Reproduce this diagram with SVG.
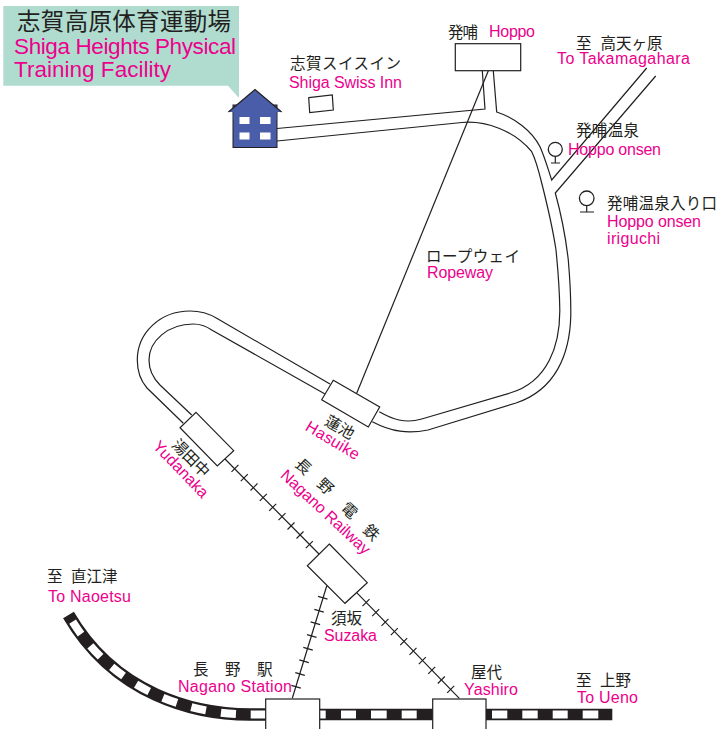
<svg xmlns="http://www.w3.org/2000/svg" width="728" height="729" viewBox="0 0 728 729">
<style>
text{font-family:"Noto Sans CJK JP","Noto Sans",sans-serif;font-size:15.5px;fill:#231f20}
.en{font-family:"Liberation Sans","Noto Sans",sans-serif;font-size:16px;fill:#ec008c}
.l{fill:none;stroke:#231f20;stroke-width:1.2}
.st{fill:#fff;stroke:#231f20;stroke-width:1.2}
.big{font-size:23.5px}
.en.big{font-size:22.5px}
.tb{fill:none;stroke:#231f20;stroke-width:11.5}
.tw{fill:none;stroke:#fff;stroke-width:8}
.pin{fill:#fff;stroke:#231f20;stroke-width:1.3}
</style>
<rect width="728" height="729" fill="#fff"/>
<g id="connectors">
<path class="l" d="M277,128.5L485,109L482.3,70.7"/>
<path class="l" d="M277,141L462,122.5C485,120.5 514,130 531.7,151.7C536,160 539,172 541.7,183C546,200 553,230 556,250C558,270 559.5,285 559.8,310C560,345 548,382 510,393L421.7,419C405,424 392,419 379.3,411.7"/>
<path class="l" d="M493.3,70.7L496.7,112C515,118 532,131 540,146.7C545,158 548,169 551.7,180L646.7,68"/>
<path class="l" d="M655.7,76L555.3,193C560,210 566,240 568.3,260C570,280 571,295 570.8,315C570,355 555,390 516,403L428,430C408,434 392,432 372.3,421.7"/>
<path class="l" d="M330,384L216.7,318.3C208,313 198,311 190,311C160,311 137.3,333 137.3,360C137.3,372 140,380 147,388L183.3,423.3"/>
<path class="l" d="M325,394L211.7,330C206,326 199,324 193.3,324C168,324 149,341 149,360C149,369 153,378 160,385L191.7,415"/>
<path class="l" d="M488.3,70.7L356.7,393.3"/>
<g class="l">
<path d="M225,459L319,554M356.7,592.7L459.3,698.3M326.7,586L292.3,698.3"/>
<path d="M238.5,464.8l-7,7M247.8,474.2l-7,7M257.5,483.5l-7,7M266.8,493.8l-7,7M276.2,503.8l-7,7M285.5,513.2l-7,7M294.5,522.5l-7,7M303.5,531.5l-7,7M312.8,541.2l-7,7"/>
<path d="M369.5,599.2l-7,7M379.2,609.2l-7,7M388.5,618.8l-7,7M397.8,628.2l-7,7M407.2,638.2l-7,7M416.5,647.8l-7,7M425.8,657.2l-7,7M435.2,666.8l-7,7M444.8,676.5l-7,7M454.2,685.8l-7,7"/>
<path d="M318,596.3l9.5,2.8M314.3,609.3l9.5,2.8M310.6,621.9l9.5,2.8M307,634.6l9.5,2.8M303.3,647.3l9.5,2.8M299.3,659.9l9.5,2.8M295.3,672.6l9.5,2.8M291.3,685.3l9.5,2.8"/>
</g>
</g>
<g id="tracks">
<path class="tb" style="stroke-width:12.5" d="M265.7,714.5L250,714.5C195,714.5 115,695 68.5,615"/>
<path class="tw" d="M265.7,714.5L250,714.5C195,714.5 115,695 68.5,615" stroke-dasharray="15 15"/>
<path class="tb" d="M319.7,714.5H432.7M486,714.5H612.3"/>
<path class="tw" d="M320,714.5H325.7M341,714.5H356M371,714.5H386.7M401.7,714.5H416.7M492,714.5H507.3M522.3,714.5H537.7M552.7,714.5H567.7M582.7,714.5H598.3"/>
</g>
<g id="callout">
<polygon points="3.3,6 239,6 239,98 228,85.7 3.3,85.7" fill="#b0dcd0"/>
<text class="big" x="17" y="30" textLength="214">志賀高原体育運動場</text>
<text class="en big" x="14" y="54" textLength="222">Shiga Heights Physical</text>
<text class="en big" x="14" y="77" textLength="157">Training Facility</text>
</g>
<g id="house">
<rect x="233" y="105" width="44" height="42.5" fill="#4a5da8" stroke="#231f20" stroke-width="1"/>
<polygon points="255,89.5 281.6,112 228.4,112" fill="#4a5da8"/>
<path d="M228.4,112L255,89.5L281.6,112" fill="none" stroke="#231f20" stroke-width="1.2"/>
<rect x="233.6" y="110" width="42.8" height="10" fill="#4a5da8"/>
<g fill="#fff"><rect x="239.5" y="117" width="10" height="7"/><rect x="260" y="117" width="10.5" height="7"/><rect x="239.5" y="132.5" width="10" height="7"/><rect x="260" y="132.5" width="10.5" height="7"/></g>
</g>
<g id="swiss-inn">
<polygon class="st" points="308.7,97.7 332.3,95 333.3,110 309.7,112.7"/>
<text x="290" y="69" textLength="111">志賀スイスイン</text>
<text class="en" x="289" y="88" textLength="113">Shiga Swiss Inn</text>
</g>
<g id="hoppo">
<rect class="st" x="455.3" y="43.7" width="65.4" height="27"/>
<text x="448" y="37.5" textLength="30">発哺</text>
<text class="en" x="489" y="37" textLength="46">Hoppo</text>
</g>
<g id="takamagahara">
<text y="49"><tspan x="576">至</tspan><tspan x="600.5">高天ヶ原</tspan></text>
<text class="en" x="557" y="64" textLength="133">To Takamagahara</text>
</g>
<g id="hoppo-onsen">
<circle class="pin" cx="555.3" cy="149.3" r="7"/>
<path class="l" d="M555.3,156.3V163M551,163H560"/>
<text x="576" y="136" textLength="63">発哺温泉</text>
<text class="en" x="568" y="155" textLength="93">Hoppo onsen</text>
</g>
<g id="hoppo-onsen-iriguchi">
<circle class="pin" cx="586.7" cy="198.3" r="7.3"/>
<path class="l" d="M586.7,205.6V212M580,212H594"/>
<text x="607" y="209" textLength="110">発哺温泉入り口</text>
<text class="en" x="607" y="227" textLength="94">Hoppo onsen</text>
<text class="en" x="607" y="244" textLength="53">iriguchi</text>
</g>
<g id="ropeway">
<text x="426" y="262" textLength="94">ロープウェイ</text>
<text class="en" x="427" y="278" textLength="66">Ropeway</text>
</g>
<g id="hasuike">
<polygon class="st" points="333.3,380.3 379.7,407 368.3,427 321.7,399.7"/>
<text transform="translate(337,432) rotate(30)" text-anchor="middle" textLength="31">蓮池</text>
<text class="en" transform="translate(330,445) rotate(31)" text-anchor="middle" textLength="60">Hasuike</text>
</g>
<g id="yudanaka">
<polygon class="st" points="196,412.3 233.7,450.7 217.3,466 180,427.7"/>
<text transform="translate(187,462) rotate(45)" text-anchor="middle" textLength="46">湯田中</text>
<text class="en" transform="translate(177,473) rotate(46)" text-anchor="middle" textLength="72">Yudanaka</text>
</g>
<g id="nagano-railway">
<text transform="translate(303,467) rotate(43)" text-anchor="middle" dy="5">長</text>
<text transform="translate(325,487) rotate(43)" text-anchor="middle" dy="5">野</text>
<text transform="translate(349,511) rotate(43)" text-anchor="middle" dy="5">電</text>
<text transform="translate(371,533) rotate(43)" text-anchor="middle" dy="5">鉄</text>
<text class="en" transform="translate(322,516) rotate(43)" text-anchor="middle" textLength="116">Nagano Railway</text>
</g>
<g id="suzaka">
<polygon class="st" points="329.3,544 367.3,582.7 345,603.3 307.3,565.7"/>
<text x="331" y="624" textLength="31">須坂</text>
<text class="en" x="324" y="641" textLength="53">Suzaka</text>
</g>
<g id="nagano-station">
<rect class="st" x="265.7" y="699" width="54" height="40"/>
<text y="675"><tspan x="193">長</tspan><tspan x="225">野</tspan><tspan x="257">駅</tspan></text>
<text class="en" x="178" y="692" textLength="114">Nagano Station</text>
</g>
<g id="yashiro">
<rect class="st" x="432.7" y="699" width="53.3" height="40"/>
<text x="471" y="678" textLength="31">屋代</text>
<text class="en" x="464" y="695" textLength="54">Yashiro</text>
</g>
<g id="ueno">
<text y="686"><tspan x="576">至</tspan><tspan x="600">上野</tspan></text>
<text class="en" x="577" y="703" textLength="61">To Ueno</text>
</g>
<g id="naoetsu">
<text y="582"><tspan x="47">至</tspan><tspan x="71">直江津</tspan></text>
<text class="en" x="48" y="602" textLength="83">To Naoetsu</text>
</g>
</svg>
